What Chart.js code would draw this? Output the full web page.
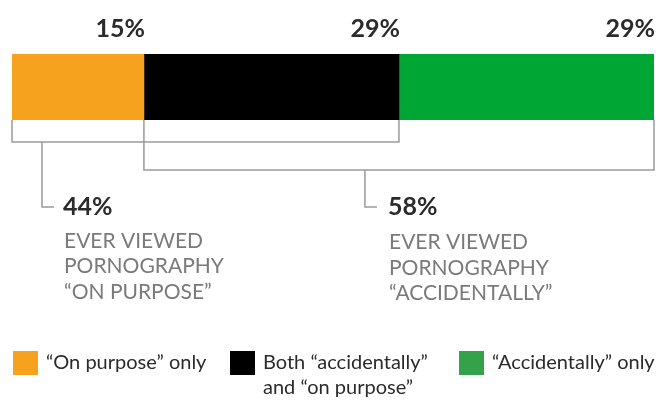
<!DOCTYPE html>
<html>
<head>
<meta charset="utf-8">
<script src="https://cdn.jsdelivr.net/npm/chart.js@4/dist/chart.umd.min.js"></script>
<style>
html,body{margin:0;padding:0;background:#fff;}
#wrap{width:670px;height:401px;position:relative;}
</style>
</head>
<body>
<div id="wrap"><canvas id="c" width="670" height="401"></canvas></div>
<script>
const categories = ['Viewed pornography'];
const seriesNames = ['“On purpose” only', 'Both “accidentally”\nand “on purpose”', '“Accidentally” only'];
const seriesValues = [15, 29, 29];
const barColors = ['#F7A21E', '#000000', '#00A634'];
const legendColors = ['#F7A21E', '#000000', '#33A24A'];
const groupTotals = [44, 58];
const groupLabels = [['EVER VIEWED', 'PORNOGRAPHY', '“ON PURPOSE”'], ['EVER VIEWED', 'PORNOGRAPHY', '“ACCIDENTALLY”']];
const groupRanges = [[0, 44], [15, 73]];
const total = seriesValues.reduce((a, b) => a + b, 0);

const overlay = {
  id: 'overlay',
  afterDraw(chart) {
    const ctx = chart.ctx;
    const xs = chart.scales.x;
    const area = chart.chartArea;
    const px = v => xs.getPixelForValue(v);
    ctx.save();
    // value labels, right-aligned to segment ends
    ctx.fillStyle = '#2b2b2b';
    ctx.font = 'bold 25px Lato';
    ctx.textAlign = 'right';
    ctx.textBaseline = 'middle';
    let cum = 0;
    seriesValues.forEach(v => {
      cum += v;
      ctx.fillText(v + '%', px(cum) + 1, 29);
    });
    // brackets
    ctx.strokeStyle = '#9a9a9a';
    ctx.lineWidth = 1.5;
    const bracketY = [142, 170];
    const connX = [px(groupRanges[0][0]) + 30, px(groupRanges[1][0]) + 221];
    const labelX = [63, 388];
    groupRanges.forEach((r, i) => {
      const x0 = px(r[0]), x1 = px(r[1]);
      ctx.beginPath();
      ctx.moveTo(x0, area.bottom);
      ctx.lineTo(x0, bracketY[i]);
      ctx.lineTo(x1, bracketY[i]);
      ctx.lineTo(x1, area.bottom);
      ctx.stroke();
      ctx.beginPath();
      ctx.moveTo(connX[i], bracketY[i]);
      ctx.lineTo(connX[i], 207);
      ctx.lineTo(connX[i] + 12, 207);
      ctx.stroke();
      ctx.textAlign = 'left';
      ctx.fillStyle = '#2b2b2b';
      ctx.font = 'bold 25px Lato';
      ctx.fillText(groupTotals[i] + '%', labelX[i], 207);
      ctx.fillStyle = '#7a7a7a';
      ctx.font = '21px Lato';
      groupLabels[i].forEach((t, j) => {
        ctx.fillText(t, labelX[i] + 1, 241 + i * 1.5 + j * 25.5);
      });
    });
    // legend
    const legX = [13, 230, 459];
    seriesNames.forEach((name, i) => {
      ctx.fillStyle = legendColors[i];
      ctx.fillRect(legX[i], 351, 25, 24);
      ctx.fillStyle = '#2b2b2b';
      ctx.font = '20px Lato';
      ctx.textAlign = 'left';
      name.split('\n').forEach((line, j) => {
        ctx.fillText(line, legX[i] + 33, 363 + j * 25);
      });
    });
    ctx.restore();
  }
};

new Chart(document.getElementById('c'), {
  type: 'bar',
  data: {
    labels: categories,
    datasets: seriesValues.map((v, i) => ({
      label: seriesNames[i],
      data: [v],
      backgroundColor: barColors[i],
      borderWidth: 0,
      barPercentage: 1,
      categoryPercentage: 1
    }))
  },
  options: {
    indexAxis: 'y',
    responsive: false,
    animation: false,
    layout: { padding: { left: 12, right: 16, top: 54, bottom: 281 } },
    plugins: { legend: { display: false }, tooltip: { enabled: false } },
    scales: {
      x: { stacked: true, min: 0, max: total, display: false },
      y: { stacked: true, display: false }
    }
  },
  plugins: [overlay]
});
</script>
</body>
</html>
